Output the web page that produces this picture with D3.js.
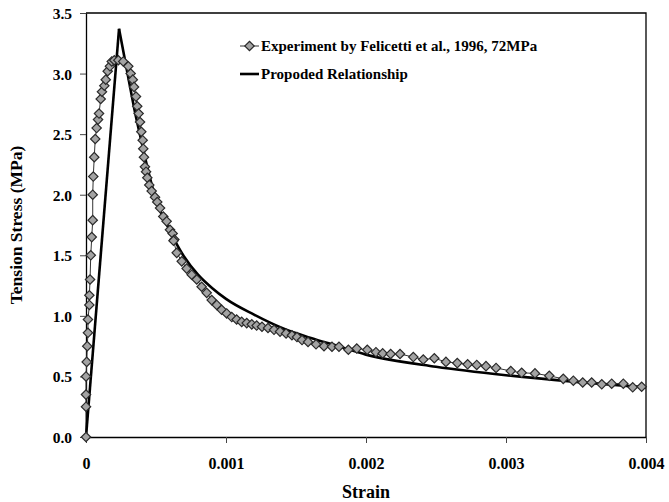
<!DOCTYPE html>
<html>
<head>
<meta charset="utf-8">
<script src="https://cdn.jsdelivr.net/npm/d3@7"></script>
<style>
    body { margin: 0; background: #fff; }
    text { font-family: "Liberation Serif", "Times New Roman", serif; font-weight: bold; }
</style>
</head>
<body>
<script>
// experiment (Felicetti et al., 1996)
const expStrain = [
    0, 0, 0, 0, 0.000005, 0.000009, 0.000014, 0.000014, 0.000024, 0.000024, 0.000029, 0.000034,
    0.000041, 0.000048, 0.000048, 0.000052, 0.000059, 0.000066, 0.000076, 0.000086, 0.000093,
    0.000105, 0.000114, 0.000131, 0.000141, 0.000155, 0.000171, 0.000184, 0.000202, 0.000231,
    0.000266, 0.000302, 0.000319, 0.000334, 0.000343, 0.000357, 0.000366, 0.000376, 0.000386,
    0.000395, 0.000405, 0.000409, 0.000414, 0.000421, 0.000429, 0.000438, 0.000452, 0.000469,
    0.000493, 0.000509, 0.000529, 0.000552, 0.000576, 0.0006, 0.000619, 0.000631, 0.000625,
    0.000648, 0.000684, 0.000719, 0.000755, 0.000791, 0.000826, 0.000862, 0.000898, 0.000934,
    0.000969, 0.001005, 0.001041, 0.001076, 0.001112, 0.001148, 0.001184, 0.001219, 0.001257,
    0.0013, 0.001343, 0.001386, 0.001429, 0.001471, 0.001507, 0.001543, 0.001586, 0.001643,
    0.0017, 0.001757, 0.001807, 0.001874, 0.001934, 0.002009, 0.002071, 0.002119, 0.002176,
    0.002243, 0.002338, 0.002409, 0.002488, 0.002571, 0.002652, 0.002726, 0.002791, 0.002857,
    0.002929, 0.003034, 0.003112, 0.003207, 0.003309, 0.003409, 0.003481, 0.003548, 0.003612,
    0.003684, 0.003755, 0.003838, 0.003905, 0.003969
];
const expStress = [
    0, 0.25, 0.35, 0.5, 0.62, 0.75, 0.86, 0.97, 1.09, 1.17, 1.3, 1.5,
    1.65, 1.79, 2.0, 2.15, 2.31, 2.46, 2.55, 2.62, 2.67,
    2.79, 2.85, 2.9, 2.95, 3.02, 3.06, 3.1, 3.11, 3.11,
    3.1, 3.06, 3.0, 2.95, 2.89, 2.81, 2.73, 2.67, 2.6,
    2.52, 2.45, 2.38, 2.31, 2.23, 2.19, 2.14, 2.08, 2.03,
    1.98, 1.94, 1.89, 1.82, 1.78, 1.71, 1.68, 1.63, 1.62,
    1.52, 1.45, 1.39, 1.34, 1.3, 1.24, 1.19, 1.13, 1.09,
    1.05, 1.02, 0.99, 0.97, 0.95, 0.94, 0.93, 0.92, 0.91,
    0.9, 0.885, 0.87, 0.855, 0.84, 0.825, 0.8, 0.785, 0.765,
    0.75, 0.745, 0.745, 0.72, 0.73, 0.72, 0.7, 0.69, 0.685,
    0.685, 0.66, 0.64, 0.65, 0.62, 0.61, 0.6, 0.595, 0.585,
    0.57, 0.545, 0.53, 0.525, 0.505, 0.48, 0.465, 0.45, 0.45,
    0.435, 0.44, 0.44, 0.41, 0.415
];

// proposed relationship
const modelStrain = [0, 0.000236, 0.0003, 0.00035, 0.0004, 0.00045, 0.0005, 0.0006, 0.0007, 0.0008,
    0.0009, 0.001, 0.0012, 0.0014, 0.0016, 0.0018, 0.002, 0.0025, 0.003, 0.0035, 0.004];
const modelStress = [0, 3.37, 2.98, 2.68, 2.42, 2.17, 1.96, 1.7, 1.49, 1.34,
    1.23, 1.14, 1.01, 0.9, 0.82, 0.75, 0.68, 0.58, 0.51, 0.455, 0.41];

const xTicks = [0, 0.001, 0.002, 0.003, 0.004];
const xTickLabels = ["0", "0.001", "0.002", "0.003", "0.004"];
const yTicks = [0, 0.5, 1, 1.5, 2, 2.5, 3, 3.5];
const legendLabels = ["Experiment by Felicetti et al., 1996, 72MPa", "Propoded Relationship"];

const width = 669,
    height = 502,
    margin = { top: 13, right: 23, bottom: 65, left: 86 },
    plotW = width - margin.left - margin.right,
    plotH = height - margin.top - margin.bottom;

const svg = d3.select("body").append("svg")
    .attr("width", width)
    .attr("height", height);

const g = svg.append("g")
    .attr("transform", `translate(${margin.left},${margin.top})`);

const x = d3.scaleLinear().domain([0, 0.004]).range([0, plotW]),
    y = d3.scaleLinear().domain([0, 3.5]).range([plotH, 0]);

const expData = expStrain.map((s, i) => [s, expStress[i]]),
    modelData = modelStrain.map((s, i) => [s, modelStress[i]]);

// axes
const xAxis = g.append("g")
    .attr("transform", `translate(0,${plotH})`)
    .call(d3.axisBottom(x).tickValues(xTicks).tickSize(6).tickSizeOuter(0)
        .tickFormat((d, i) => xTickLabels[i]));
xAxis.selectAll("text").attr("dy", "1.45em").style("font-size", "16px").attr("fill", "#000");

const yAxis = g.append("g")
    .call(d3.axisLeft(y).tickValues(yTicks).tickSize(6).tickSizeOuter(0).tickFormat(d3.format(".1f")));
yAxis.selectAll("text").attr("x", -14).attr("dy", "0.35em").style("font-size", "15.5px").attr("fill", "#000");

g.selectAll(".domain").attr("stroke", "#000").attr("stroke-width", 1.3);
g.selectAll(".tick line").attr("stroke", "#444").attr("stroke-width", 1);

// frame top/right
g.append("path")
    .attr("d", `M0,0 H${plotW} V${plotH}`)
    .attr("fill", "none")
    .attr("stroke", "#000")
    .attr("stroke-width", 1.3);

const line = d3.line().x(d => x(d[0])).y(d => y(d[1]));

// experiment line + markers
g.append("path")
    .datum(expData)
    .attr("d", line)
    .attr("fill", "none")
    .attr("stroke", "#333")
    .attr("stroke-width", 1);

// proposed relationship: straight rise, smooth descent
g.append("path")
    .datum(modelData.slice(0, 2))
    .attr("d", line)
    .attr("fill", "none")
    .attr("stroke", "#000")
    .attr("stroke-width", 2.6);

g.append("path")
    .datum(modelData.slice(1))
    .attr("d", line.curve(d3.curveMonotoneX))
    .attr("fill", "none")
    .attr("stroke", "#000")
    .attr("stroke-width", 2.6)
    .attr("stroke-linejoin", "miter");

const diamond = d3.symbol(d3.symbolSquare, 44);

g.append("g")
    .selectAll("path")
    .data(expData)
    .enter()
    .append("path")
    .attr("d", diamond)
    .attr("transform", d => `translate(${x(d[0])},${y(d[1])}) rotate(45)`)
    .attr("fill", "#a3a3a3")
    .attr("stroke", "#2a2a2a")
    .attr("stroke-width", 1.2);

// axis titles
svg.append("text")
    .attr("transform", `translate(22,${margin.top + plotH / 2}) rotate(-90)`)
    .style("text-anchor", "middle")
    .style("font-size", "17.5px")
    .text("Tension Stress (MPa)");

svg.append("text")
    .attr("x", margin.left + plotW / 2)
    .attr("y", 498)
    .style("text-anchor", "middle")
    .style("font-size", "18px")
    .text("Strain");

// legend
const legend = svg.append("g").attr("transform", "translate(240,46)");

legend.append("line")
    .attr("x1", 0).attr("x2", 19)
    .attr("stroke", "#333").attr("stroke-width", 1);
legend.append("path")
    .attr("d", diamond)
    .attr("transform", "translate(9.5,0) rotate(45)")
    .attr("fill", "#a3a3a3")
    .attr("stroke", "#2a2a2a")
    .attr("stroke-width", 1.2);
legend.append("line")
    .attr("x1", 0).attr("x2", 19)
    .attr("y1", 28).attr("y2", 28)
    .attr("stroke", "#000").attr("stroke-width", 2.6);

legend.selectAll("text")
    .data(legendLabels)
    .enter()
    .append("text")
    .attr("x", 21)
    .attr("y", (d, i) => i * 28)
    .attr("dy", "0.35em")
    .style("font-size", "15px")
    .text(d => d);
</script>
</body>
</html>
